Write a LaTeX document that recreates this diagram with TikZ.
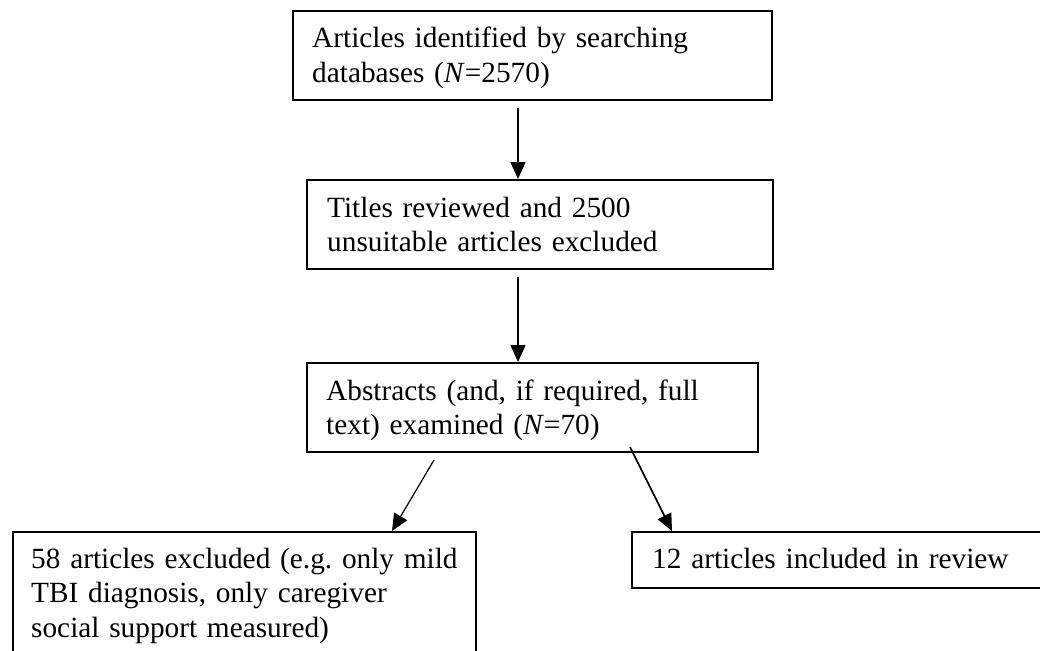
\documentclass[tikz,border=0pt]{standalone}
\usepackage{fontspec}
\setmainfont{Liberation Serif}
\usetikzlibrary{arrows.meta}
\begin{document}
\frenchspacing
\begin{tikzpicture}[x=1pt,y=-1pt,
  box/.style={draw=black, line width=2.2pt, inner sep=0pt, anchor=north west},
  txt/.style={font=\fontsize{29.3}{34.7}\selectfont, align=left, text width=600pt, inner sep=0pt, anchor=base west},
  arr/.style={-{Triangle[length=17pt,width=15pt]}, line width=1.6pt},
  thinarr/.style={-{Triangle[length=17pt,width=15pt]}, line width=1.2pt}
]
\useasboundingbox (0,0) rectangle (1040,650);
\clip (0,0) rectangle (1040,650);
\fill[white] (0,0) rectangle (1040,650);
% boxes
\node[box, minimum width=479pt, minimum height=89pt] (b1) at (292,10) {};
\node[box, minimum width=466pt, minimum height=89pt] (b2) at (306,179) {};
\node[box, minimum width=451pt, minimum height=89pt] (b3) at (306,362) {};
\node[box, minimum width=463pt, minimum height=135pt] (b4) at (12,531) {};
\node[box, minimum width=420pt, minimum height=56pt] (b5) at (631,531) {};
% texts
\node[txt] (t1) at (312,48) {Articles identified by searching\\databases (\textit{N}=2570)};
\node[txt] (t2) at (327,217) {Titles reviewed and 2500\\unsuitable articles excluded};
\node[txt] (t3) at (326,400) {Abstracts (and, if required, full\\text) examined (\textit{N}=70)};
\node[txt] (t4) at (31,568) {58 articles excluded (e.g. only mild\\TBI diagnosis, only caregiver\\social support measured)};
\node[txt] (t5) at (652,568) {12 articles included in review};
% connectors
\coordinate (s1) at (518,108);
\coordinate (s2) at (518,277);
\coordinate (s3) at (434,460);
\coordinate (e3) at (392,531);
\coordinate (s4) at (630,447);
\coordinate (e4) at (672,531);
\draw[arr] (s1) -- (s1 |- b2.north);
\draw[arr] (s2) -- (s2 |- b3.north);
\draw[thinarr] (s3) -- (e3);
\draw[arr] (s4) -- (e4);
\end{tikzpicture}
\end{document}
